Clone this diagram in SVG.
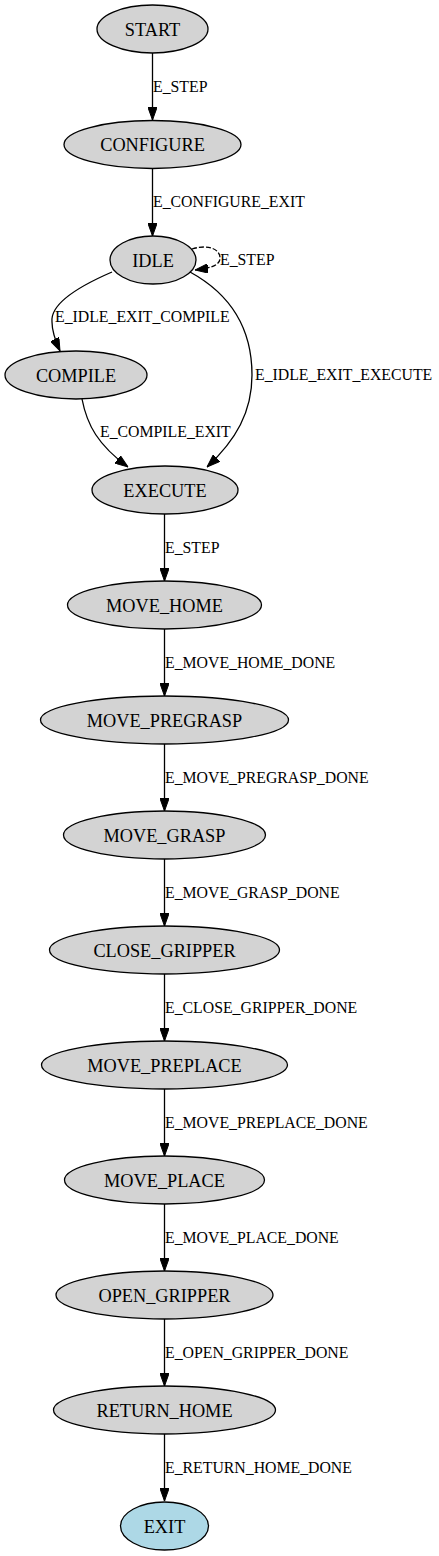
<svg xmlns="http://www.w3.org/2000/svg" width="439" height="1556" viewBox="0 0 439 1556">
<style>
.n ellipse{fill:#d3d3d3;stroke:#000;stroke-width:1.3}
.n text{font-family:"Liberation Serif","Times New Roman",serif;font-size:18.3px;text-anchor:middle;fill:#000}
.e path{fill:none;stroke:#000;stroke-width:1.3}
.e text{font-family:"Liberation Serif","Times New Roman",serif;font-size:15.8px;fill:#000}
</style>
<defs>
<marker id="ah" viewBox="0 0 13 9.4" refX="13" refY="4.7" markerWidth="13" markerHeight="9.4" markerUnits="userSpaceOnUse" orient="auto">
<path d="M0,0 L13,4.7 L0,9.4 z" fill="#000" stroke="#000" stroke-width="1"/>
</marker>
</defs>
<rect width="439" height="1556" fill="#fff"/>
<g id="edges" class="e">
<path d="M152.5,53 L152.5,120" marker-end="url(#ah)"/><text x="153" y="92">E_STEP</text>
<path d="M152.5,168.5 L152.5,236" marker-end="url(#ah)"/><text x="153" y="207">E_CONFIGURE_EXIT</text>
<path d="M192,249 C208,244 220,249 220,258 C220,265 212,268 195,270" stroke-dasharray="5,2" marker-end="url(#ah)"/><text x="220" y="265">E_STEP</text>
<path d="M112,272 C75,288 50,305 52,322 C52,332 55,340 60,351" marker-end="url(#ah)"/><text x="55" y="322">E_IDLE_EXIT_COMPILE</text>
<path d="M190,272 C232,295 252,330 252,375 C252,412 236,440 207,467" marker-end="url(#ah)"/><text x="255" y="380">E_IDLE_EXIT_EXECUTE</text>
<path d="M82,399 C87,425 98,445 128,467" marker-end="url(#ah)"/><text x="100" y="437">E_COMPILE_EXIT</text>
<path d="M164.5,514 L164.5,581" marker-end="url(#ah)"/><text x="165" y="553">E_STEP</text>
<path d="M164.5,629 L164.5,696" marker-end="url(#ah)"/><text x="165" y="668">E_MOVE_HOME_DONE</text>
<path d="M164.5,744 L164.5,811" marker-end="url(#ah)"/><text x="165" y="783">E_MOVE_PREGRASP_DONE</text>
<path d="M164.5,859 L164.5,926" marker-end="url(#ah)"/><text x="165" y="898">E_MOVE_GRASP_DONE</text>
<path d="M164.5,974 L164.5,1041" marker-end="url(#ah)"/><text x="165" y="1013">E_CLOSE_GRIPPER_DONE</text>
<path d="M164.5,1089 L164.5,1156" marker-end="url(#ah)"/><text x="165" y="1128">E_MOVE_PREPLACE_DONE</text>
<path d="M164.5,1204 L164.5,1271" marker-end="url(#ah)"/><text x="165" y="1243">E_MOVE_PLACE_DONE</text>
<path d="M164.5,1319 L164.5,1386" marker-end="url(#ah)"/><text x="165" y="1358">E_OPEN_GRIPPER_DONE</text>
<path d="M164.5,1434 L164.5,1501" marker-end="url(#ah)"/><text x="165" y="1473">E_RETURN_HOME_DONE</text>
</g>
<g id="START" class="n"><ellipse cx="152.5" cy="29" rx="55.5" ry="24"/><text x="152.5" y="35.5">START</text></g>
<g id="CONFIGURE" class="n"><ellipse cx="152.5" cy="144.5" rx="88.5" ry="24"/><text x="152.5" y="151">CONFIGURE</text></g>
<g id="IDLE" class="n"><ellipse cx="153" cy="260" rx="43" ry="24"/><text x="153" y="266.5">IDLE</text></g>
<g id="COMPILE" class="n"><ellipse cx="76" cy="375" rx="71" ry="24"/><text x="76" y="381.5">COMPILE</text></g>
<g id="EXECUTE" class="n"><ellipse cx="165" cy="490" rx="73" ry="24"/><text x="165" y="496.5">EXECUTE</text></g>
<g id="MOVE_HOME" class="n"><ellipse cx="164.5" cy="605" rx="97" ry="24"/><text x="164.5" y="611.5">MOVE_HOME</text></g>
<g id="MOVE_PREGRASP" class="n"><ellipse cx="164.5" cy="720" rx="124" ry="24"/><text x="164.5" y="726.5">MOVE_PREGRASP</text></g>
<g id="MOVE_GRASP" class="n"><ellipse cx="164.5" cy="835" rx="101" ry="24"/><text x="164.5" y="841.5">MOVE_GRASP</text></g>
<g id="CLOSE_GRIPPER" class="n"><ellipse cx="164.5" cy="950" rx="115" ry="24"/><text x="164.5" y="956.5">CLOSE_GRIPPER</text></g>
<g id="MOVE_PREPLACE" class="n"><ellipse cx="164.5" cy="1065" rx="123" ry="24"/><text x="164.5" y="1071.5">MOVE_PREPLACE</text></g>
<g id="MOVE_PLACE" class="n"><ellipse cx="164.5" cy="1180" rx="100" ry="24"/><text x="164.5" y="1186.5">MOVE_PLACE</text></g>
<g id="OPEN_GRIPPER" class="n"><ellipse cx="164.5" cy="1295" rx="108.5" ry="24"/><text x="164.5" y="1301.5">OPEN_GRIPPER</text></g>
<g id="RETURN_HOME" class="n"><ellipse cx="164.5" cy="1410" rx="111" ry="24"/><text x="164.5" y="1416.5">RETURN_HOME</text></g>
<g id="EXIT" class="n"><ellipse cx="164.5" cy="1526" rx="44" ry="24" style="fill:#add8e6"/><text x="164.5" y="1532.5">EXIT</text></g>
</svg>
